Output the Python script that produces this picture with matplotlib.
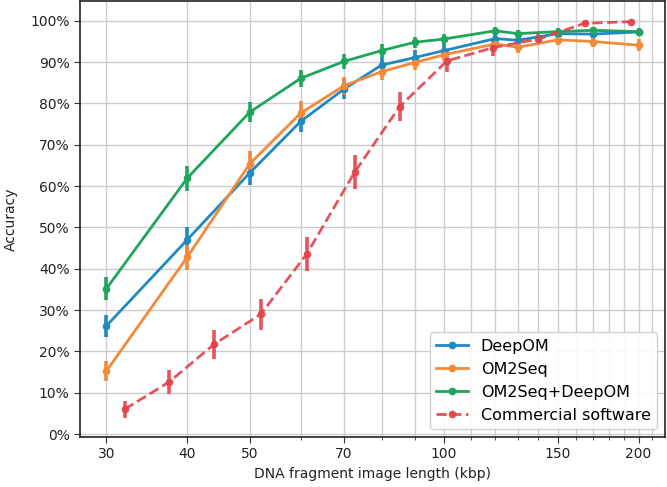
import matplotlib
matplotlib.use("Agg")
import matplotlib.pyplot as plt
from matplotlib.lines import Line2D
from matplotlib.ticker import PercentFormatter, FixedLocator, NullFormatter, FixedFormatter

# ---- data ----
x_models = [30, 40, 50, 60, 70, 80, 90, 100, 120, 130, 150, 170, 200]
deepom = [26.2, 47.0, 63.2, 75.7, 83.5, 89.3, 91.1, 92.8, 95.7, 95.3, 96.9, 96.8, 97.3]
deepom_err = [2.7, 3.0, 3.0, 2.6, 2.4, 2.0, 1.8, 1.6, 1.3, 1.3, 1.1, 1.1, 1.0]
om2seq = [15.3, 42.8, 65.4, 77.7, 84.3, 87.7, 89.9, 91.8, 94.4, 93.6, 95.4, 95.0, 94.1]
om2seq_err = [2.5, 3.0, 3.0, 2.8, 2.2, 2.0, 1.8, 1.6, 1.4, 1.4, 1.3, 1.3, 1.5]
combo = [35.2, 61.9, 77.9, 86.1, 90.2, 92.8, 94.8, 95.6, 97.6, 96.9, 97.4, 97.7, 97.4]
combo_err = [2.8, 3.0, 2.4, 2.0, 1.8, 1.6, 1.4, 1.2, 1.0, 1.0, 0.9, 0.9, 0.9]

x_comm = [32, 37.5, 44, 52, 61.3, 72.7, 85.3, 101, 119, 140, 165, 195]
comm = [6.0, 12.6, 21.7, 29.0, 43.6, 63.4, 79.2, 90.3, 93.5, 95.6, 99.4, 99.8]
comm_err = [2.0, 2.8, 3.6, 3.8, 4.2, 4.1, 3.5, 2.6, 2.0, 1.4, 0.5, 0.3]

labels = ["DeepOM", "OM2Seq", "OM2Seq+DeepOM", "Commercial software"]
colors = ["#1f8ac2", "#f5893a", "#1fa55c", "#e2434b"]

major_ticks = [30, 40, 50, 70, 100, 150, 200]
minor_ticks = [60, 80, 90, 110, 120, 130, 140, 160, 170, 180, 190, 210]
y_ticks = list(range(0, 101, 10))

# ---- plot ----
fig = plt.figure(figsize=(6.67, 4.87), dpi=100)
ax = fig.add_axes([80 / 667, 1 - 437 / 487, 585 / 667, 436 / 487])

series = [(x_models, deepom, deepom_err), (x_models, om2seq, om2seq_err),
          (x_models, combo, combo_err)]
handles = []
for (xs, ys, es), lab, c in zip(series, labels[:3], colors[:3]):
    ax.errorbar(xs, ys, yerr=es, color=c, marker="o", markersize=4.5,
                linewidth=2, elinewidth=2.6, capsize=0, zorder=3)
    handles.append(Line2D([], [], color=c, marker="o", markersize=4.5,
                          linewidth=2, label=lab))

ax.errorbar(x_comm, comm, yerr=comm_err, color=colors[3], marker="o",
            markersize=4.5, linewidth=2, elinewidth=2.6, capsize=0,
            linestyle="--", alpha=0.9, zorder=3)
handles.append(Line2D([], [], color=colors[3], marker="o", markersize=4.5,
                      linewidth=2, linestyle="--", alpha=0.9, label=labels[3]))

ax.set_xscale("log")
ax.set_xlim(27.3, 219.8)
ax.set_ylim(-0.7, 104.8)
ax.xaxis.set_major_locator(FixedLocator(major_ticks))
ax.xaxis.set_major_formatter(FixedFormatter([str(t) for t in major_ticks]))
ax.xaxis.set_minor_locator(FixedLocator(minor_ticks))
ax.xaxis.set_minor_formatter(NullFormatter())
ax.set_yticks(y_ticks)
ax.yaxis.set_major_formatter(PercentFormatter(100, decimals=0))

ax.grid(True, which="both", axis="x", color="#cccccc", linewidth=1)
ax.grid(True, which="major", axis="y", color="#cccccc", linewidth=1)
ax.set_axisbelow(True)

ax.tick_params(axis="both", which="major", labelsize=10, length=4, color="#333333", labelcolor="#222222")
ax.tick_params(axis="x", which="minor", length=2.5, color="#333333")
for s in ax.spines.values():
    s.set_color("#222222")
    s.set_linewidth(1.2)

ax.set_xlabel("DNA fragment image length (kbp)", fontsize=10, color="#222222")
ax.set_ylabel("Accuracy", fontsize=10, color="#222222", labelpad=9)

ax.legend(handles=handles, loc="lower right", fontsize=11.5, framealpha=0.9)

fig.savefig("out.png", dpi=100)
